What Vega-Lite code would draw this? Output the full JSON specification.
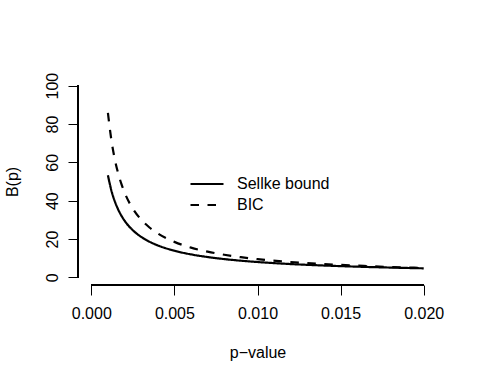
{
  "$schema": "https://vega.github.io/schema/vega-lite/v6.json",
  "width": 359,
  "height": 207,
  "autosize": {"type": "none"},
  "padding": {"left": 78, "top": 78, "right": 40, "bottom": 97},
  "background": "white",
  "config": {
    "view": {"stroke": null},
    "font": "Liberation Sans",
    "axis": {"grid": false, "domain": false, "tickColor": "black", "tickSize": 10, "tickWidth": 1,
             "labelColor": "black", "labelFontSize": 16, "labelFont": "Liberation Sans",
             "titleColor": "black", "titleFontSize": 16, "titleFontWeight": "normal", "titleFont": "Liberation Sans"}
  },
  "data": {"values": [
    {"p": 0.001, "series": "Sellke bound", "B": 53.26},
    {"p": 0.0012, "series": "Sellke bound", "B": 45.58},
    {"p": 0.0014, "series": "Sellke bound", "B": 39.99},
    {"p": 0.0016, "series": "Sellke bound", "B": 35.72},
    {"p": 0.0018, "series": "Sellke bound", "B": 32.34},
    {"p": 0.002, "series": "Sellke bound", "B": 29.60},
    {"p": 0.0025, "series": "Sellke bound", "B": 24.56},
    {"p": 0.003, "series": "Sellke bound", "B": 21.11},
    {"p": 0.0035, "series": "Sellke bound", "B": 18.59},
    {"p": 0.004, "series": "Sellke bound", "B": 16.66},
    {"p": 0.005, "series": "Sellke bound", "B": 13.89},
    {"p": 0.006, "series": "Sellke bound", "B": 11.98},
    {"p": 0.007, "series": "Sellke bound", "B": 10.59},
    {"p": 0.008, "series": "Sellke bound", "B": 9.52},
    {"p": 0.009, "series": "Sellke bound", "B": 8.68},
    {"p": 0.010, "series": "Sellke bound", "B": 7.99},
    {"p": 0.012, "series": "Sellke bound", "B": 6.93},
    {"p": 0.014, "series": "Sellke bound", "B": 6.16},
    {"p": 0.016, "series": "Sellke bound", "B": 5.56},
    {"p": 0.018, "series": "Sellke bound", "B": 5.09},
    {"p": 0.020, "series": "Sellke bound", "B": 4.70},
    {"p": 0.001, "series": "BIC", "B": 85.8},
    {"p": 0.0012, "series": "BIC", "B": 72.1},
    {"p": 0.0014, "series": "BIC", "B": 62.2},
    {"p": 0.0016, "series": "BIC", "B": 54.8},
    {"p": 0.0018, "series": "BIC", "B": 49.0},
    {"p": 0.002, "series": "BIC", "B": 44.3},
    {"p": 0.0025, "series": "BIC", "B": 35.8},
    {"p": 0.003, "series": "BIC", "B": 30.1},
    {"p": 0.0035, "series": "BIC", "B": 26.0},
    {"p": 0.004, "series": "BIC", "B": 22.9},
    {"p": 0.005, "series": "BIC", "B": 18.5},
    {"p": 0.006, "series": "BIC", "B": 15.5},
    {"p": 0.007, "series": "BIC", "B": 13.4},
    {"p": 0.008, "series": "BIC", "B": 11.8},
    {"p": 0.009, "series": "BIC", "B": 10.5},
    {"p": 0.010, "series": "BIC", "B": 9.5},
    {"p": 0.012, "series": "BIC", "B": 8.0},
    {"p": 0.014, "series": "BIC", "B": 6.9},
    {"p": 0.016, "series": "BIC", "B": 6.1},
    {"p": 0.018, "series": "BIC", "B": 5.4},
    {"p": 0.020, "series": "BIC", "B": 4.9}
  ]},
  "layer": [
    {
      "mark": {"type": "line", "color": "black", "strokeWidth": 2.2, "interpolate": "monotone"},
      "encoding": {
        "x": {"field": "p", "type": "quantitative",
              "scale": {"domain": [-0.0008, 0.0208], "nice": false, "zero": false},
              "axis": {"values": [0, 0.005, 0.01, 0.015, 0.02], "format": ".3f", "labelPadding": 10,
                       "title": "p\u2212value", "titlePadding": 23}},
        "y": {"field": "B", "type": "quantitative",
              "scale": {"domain": [-4, 104], "nice": false, "zero": false},
              "axis": {"values": [0, 20, 40, 60, 80, 100], "labelAngle": -90, "labelAlign": "center",
                       "labelBaseline": "bottom", "labelPadding": 8, "title": "B(p)", "titlePadding": 24}},
        "strokeDash": {"field": "series", "type": "nominal",
                       "scale": {"domain": ["Sellke bound", "BIC"], "range": [[1, 0], [8.5, 8.5]]},
                       "legend": {"orient": "none", "legendX": 121, "legendY": 98, "title": null,
                                  "symbolType": "M-3,0H3", "symbolSize": 121, "symbolStrokeWidth": 2.2,
                                  "symbolStrokeColor": "black", "symbolFillColor": "transparent",
                                  "labelFontSize": 16, "labelColor": "black",
                                  "labelFont": "Liberation Sans",
                                  "labelOffset": 22, "rowPadding": 5, "padding": 0}},
        "detail": {"field": "series"}
      }
    },
    {
      "mark": {"type": "rule", "color": "black", "strokeWidth": 1},
      "encoding": {"x": {"datum": 0}, "x2": {"datum": 0.02}, "y": {"datum": -4}}
    },
    {
      "mark": {"type": "rule", "color": "black", "strokeWidth": 1},
      "encoding": {"x": {"datum": -0.0008}, "y": {"datum": 0}, "y2": {"datum": 100}}
    }
  ]
}
